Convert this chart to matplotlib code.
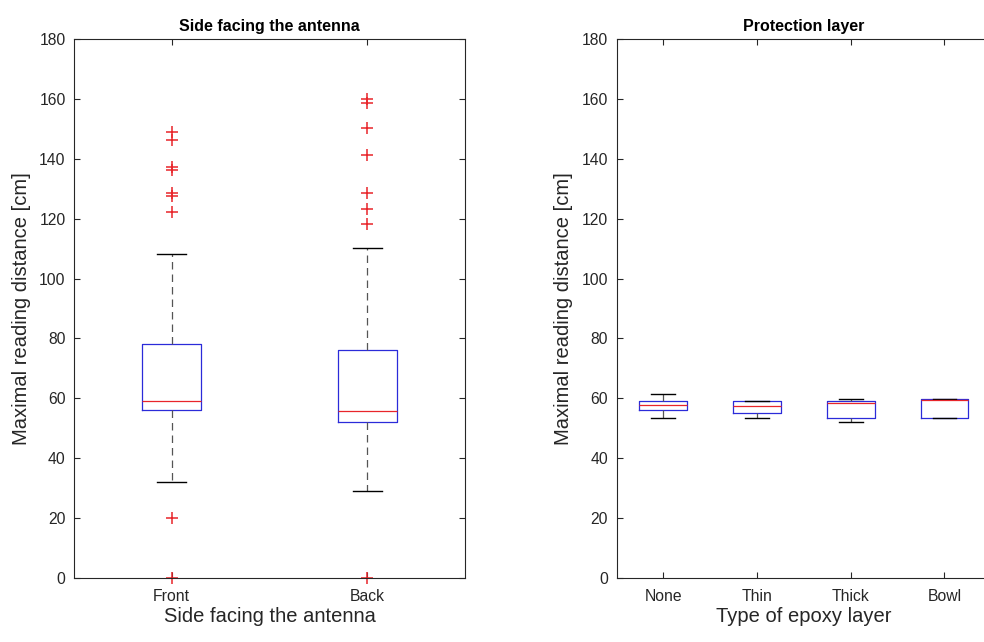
import matplotlib
matplotlib.use('Agg')
import matplotlib.pyplot as plt

plt.rcParams['font.family'] = ['Liberation Sans', 'DejaVu Sans']

# Left panel: side facing the antenna
side_labels = ['Front', 'Back']
side_q1 = [56.1, 52.0]
side_med = [59.0, 55.9]
side_q3 = [78.0, 76.3]
side_lo = [32.2, 29.1]
side_hi = [108.2, 110.2]
side_fliers = [
    [0, 20.1, 122.3, 127.5, 128.5, 136.4, 137.2, 146.2, 148.9],
    [0, 118.2, 123.2, 128.5, 141.3, 150.2, 158.6, 159.8],
]

# Right panel: protection layer
layer_labels = ['None', 'Thin', 'Thick', 'Bowl']
layer_q1 = [56.1, 55.1, 53.3, 53.3]
layer_med = [57.8, 57.3, 58.3, 59.4]
layer_q3 = [59.0, 59.0, 59.1, 59.8]
layer_lo = [53.3, 53.3, 52.1, 53.3]
layer_hi = [61.3, 59.0, 59.9, 59.8]

dark = '#262626'


def make_stats(labels, q1, med, q3, lo, hi, fliers=None):
    stats = []
    for i, lab in enumerate(labels):
        stats.append({
            'label': lab, 'q1': q1[i], 'med': med[i], 'q3': q3[i],
            'whislo': lo[i], 'whishi': hi[i],
            'fliers': fliers[i] if fliers else [],
        })
    return stats


def draw(ax, stats, width, title, xlabel):
    n = len(stats)
    ax.bxp(stats, positions=range(1, n + 1), widths=width,
           capwidths=width / 2, showfliers=True,
           boxprops=dict(color='#2b2bd9', linewidth=0.9),
           medianprops=dict(color='#e8252a', linewidth=0.9),
           whiskerprops=dict(color='#555555', linestyle=(0, (6, 4)), linewidth=0.9),
           capprops=dict(color='black', linewidth=1.0),
           flierprops=dict(marker='+', markeredgecolor='#e8252a',
                           markersize=9, markeredgewidth=1.1, clip_on=False))
    ax.set_xlim(0.5, n + 0.5)
    ax.set_ylim(0, 180)
    ax.set_yticks(range(0, 181, 20))
    ax.tick_params(direction='in', top=True, right=True, labelsize=11.3,
                   colors=dark, length=4)
    ax.tick_params(axis='y', pad=6)
    ax.tick_params(axis='x', pad=8)
    for s in ax.spines.values():
        s.set_color(dark)
        s.set_linewidth(0.8)
    ax.set_title(title, fontsize=11.5, fontweight='bold', color='black', pad=6)
    ax.set_xlabel(xlabel, fontsize=14.5, color=dark, labelpad=2)
    ax.set_ylabel('Maximal reading distance [cm]', fontsize=14.5, color=dark, labelpad=6)


fig = plt.figure(figsize=(9.84, 6.42), dpi=100)
ax1 = fig.add_axes([74 / 984, 64 / 642, 391 / 984, 539 / 642])
ax2 = fig.add_axes([616.5 / 984, 64 / 642, 374.8 / 984, 539 / 642])

draw(ax1, make_stats(side_labels, side_q1, side_med, side_q3, side_lo, side_hi, side_fliers),
     0.3, 'Side facing the antenna', 'Side facing the antenna')
draw(ax2, make_stats(layer_labels, layer_q1, layer_med, layer_q3, layer_lo, layer_hi),
     0.51, 'Protection layer', 'Type of epoxy layer')

fig.savefig('out.png', dpi=100)
